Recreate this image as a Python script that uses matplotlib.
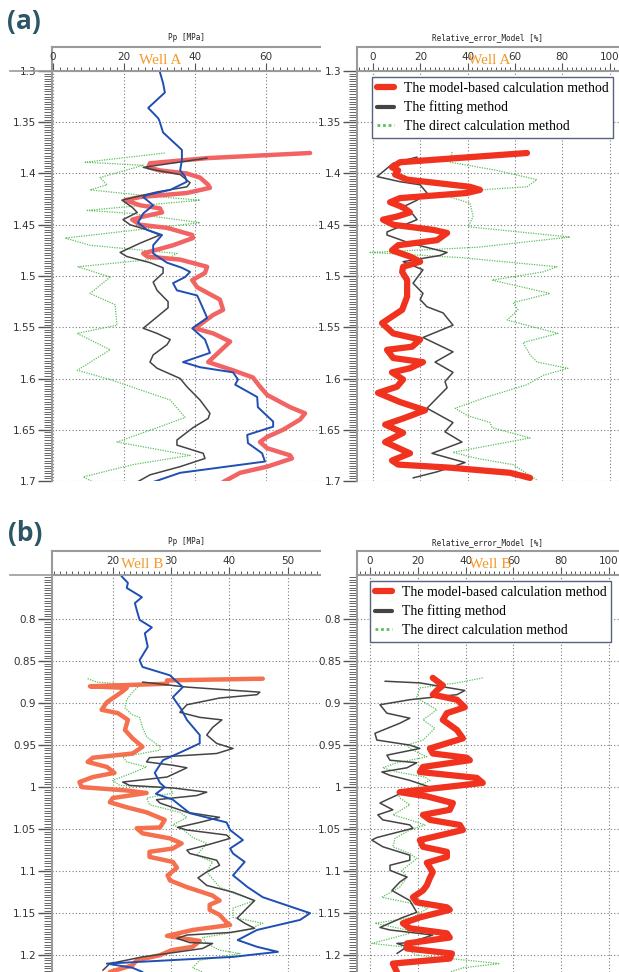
import matplotlib.pyplot as plt
import matplotlib.ticker as mticker
from matplotlib.lines import Line2D

W, H = 619, 972

# ---- Well A : Pp [MPa] ----
a_meas_d = [1.301, 1.312, 1.321, 1.336, 1.346, 1.348, 1.360, 1.377, 1.387, 1.397, 1.403, 1.408, 1.416, 1.421,
            1.423, 1.431, 1.439, 1.448, 1.455, 1.460, 1.470, 1.478, 1.487, 1.492, 1.496, 1.501, 1.507, 1.514,
            1.519, 1.525, 1.536, 1.541, 1.551, 1.562, 1.575, 1.584, 1.589, 1.594, 1.601, 1.606, 1.618, 1.628,
            1.642, 1.647, 1.655, 1.663, 1.673, 1.681, 1.692, 1.701]
a_meas_v = [30.1, 31.0, 31.5, 26.8, 29.6, 29.9, 31.0, 36.3, 36.3, 35.8, 37.2, 37.7, 33.0, 26.5,
            25.4, 28.2, 25.4, 23.9, 26.5, 30.7, 28.2, 28.2, 32.1, 36.3, 38.6, 37.2, 33.8, 34.9,
            40.6, 41.4, 42.8, 43.4, 39.2, 42.8, 44.2, 36.6, 41.4, 50.7, 52.1, 51.3, 57.5, 57.7,
            62.0, 62.0, 54.7, 54.9, 58.9, 59.7, 35.8, 28.2]

a_model_d = [1.380, 1.385, 1.390, 1.394, 1.397, 1.400, 1.404, 1.411, 1.414, 1.419, 1.423, 1.426, 1.431, 1.434,
             1.438, 1.442, 1.445, 1.450, 1.453, 1.460, 1.463, 1.470, 1.478, 1.481, 1.484, 1.491, 1.497, 1.504,
             1.511, 1.523, 1.533, 1.538, 1.551, 1.556, 1.564, 1.584, 1.592, 1.599, 1.608, 1.616, 1.628, 1.634,
             1.640, 1.650, 1.657, 1.662, 1.668, 1.675, 1.678, 1.686, 1.692, 1.701]
a_model_v = [72.4, 43.4, 27.3, 26.8, 30.1, 37.7, 41.4, 43.7, 44.2, 37.7, 24.5, 20.3, 24.5, 30.1,
             30.7, 25.4, 22.3, 24.5, 32.1, 39.2, 39.4, 33.8, 25.4, 26.5, 35.8, 43.4, 42.8, 39.2,
             40.6, 47.0, 47.9, 45.1, 40.0, 45.1, 49.9, 43.7, 50.7, 56.3, 58.3, 60.3, 66.8, 71.0,
             69.6, 64.8, 60.3, 58.3, 60.3, 66.8, 67.3, 60.3, 52.7, 47.9]

a_fit_d = [1.385, 1.394, 1.397, 1.401, 1.409, 1.413, 1.418, 1.426, 1.433, 1.438, 1.445, 1.450, 1.455, 1.460,
           1.468, 1.477, 1.481, 1.487, 1.492, 1.497, 1.506, 1.514, 1.525, 1.531, 1.543, 1.551, 1.556, 1.562,
           1.567, 1.577, 1.584, 1.590, 1.600, 1.608, 1.621, 1.634, 1.639, 1.648, 1.660, 1.665, 1.668, 1.673,
           1.678, 1.686, 1.694, 1.701]
a_fit_v = [43.4, 25.4, 29.3, 35.8, 38.6, 37.7, 29.3, 19.4, 22.3, 23.7, 19.7, 21.7, 26.5, 30.1,
           24.5, 18.9, 20.8, 27.3, 31.0, 31.0, 28.2, 29.3, 32.4, 32.4, 28.2, 25.4, 29.3, 33.0,
           32.1, 28.2, 27.3, 29.3, 35.8, 37.7, 41.4, 44.2, 43.7, 39.4, 34.9, 34.9, 37.7, 42.3,
           42.8, 35.8, 27.3, 23.7]

a_direct_d = [1.380, 1.389, 1.392, 1.404, 1.411, 1.416, 1.422, 1.426, 1.436, 1.439, 1.448, 1.463, 1.470, 1.478,
              1.482, 1.491, 1.501, 1.517, 1.528, 1.548, 1.556, 1.572, 1.592, 1.601, 1.611, 1.621, 1.638, 1.647,
              1.662, 1.675, 1.684, 1.696, 1.701]
a_direct_v = [31.5, 9.0, 25.4, 13.2, 15.2, 10.4, 27.3, 41.4, 9.6, 22.3, 41.4, 3.4, 10.4, 34.9,
              33.0, 7.0, 16.1, 10.4, 17.5, 18.0, 6.8, 16.1, 6.8, 16.1, 24.5, 33.0, 37.2, 30.1,
              18.0, 38.6, 22.5, 8.5, 11.3]

# ---- Well A : Relative error [%] ----
a_err_model_d = [1.380, 1.389, 1.394, 1.397, 1.401, 1.406, 1.413, 1.416, 1.419, 1.424, 1.428, 1.433, 1.438, 1.442,
                 1.445, 1.450, 1.455, 1.458, 1.465, 1.470, 1.475, 1.481, 1.486, 1.491, 1.496, 1.504, 1.520, 1.533,
                 1.546, 1.556, 1.562, 1.569, 1.572, 1.580, 1.584, 1.590, 1.594, 1.601, 1.608, 1.614, 1.623, 1.631,
                 1.639, 1.645, 1.653, 1.662, 1.673, 1.680, 1.684, 1.687, 1.692, 1.697]
a_err_model_v = [65.1, 11.4, 8.0, 10.6, 9.3, 14.4, 41.0, 45.2, 39.7, 11.4, 7.2, 12.7, 15.6, 10.1,
                 4.2, 8.5, 25.4, 31.3, 27.1, 10.6, 8.0, 15.6, 19.9, 12.7, 12.3, 14.4, 14.4, 12.3,
                 3.8, 8.5, 19.9, 16.5, 5.9, 8.5, 21.1, 15.6, 8.0, 12.7, 10.1, 2.1, 11.4, 22.0,
                 12.7, 5.1, 12.7, 5.1, 15.6, 8.0, 10.6, 32.6, 57.9, 66.4]

a_err_fit_d = [1.384, 1.390, 1.403, 1.408, 1.411, 1.419, 1.426, 1.434, 1.440, 1.445, 1.457, 1.460, 1.468, 1.477,
               1.480, 1.486, 1.494, 1.507, 1.517, 1.523, 1.530, 1.536, 1.548, 1.560, 1.574, 1.584, 1.594, 1.603,
               1.609, 1.629, 1.643, 1.652, 1.662, 1.673, 1.682, 1.691, 1.697]
a_err_fit_v = [18.6, 8.5, 1.7, 11.4, 19.9, 22.8, 18.6, 11.4, 16.9, 18.6, 5.9, 5.9, 15.6, 31.3,
               28.3, 12.7, 21.1, 16.9, 21.1, 19.9, 22.8, 29.6, 33.8, 21.1, 33.8, 26.2, 33.8, 30.4,
               31.3, 22.8, 33.8, 30.4, 37.6, 24.9, 38.9, 27.1, 16.9]

a_err_direct_d = [1.379, 1.389, 1.397, 1.406, 1.413, 1.416, 1.423, 1.429, 1.442, 1.452, 1.462, 1.472, 1.477, 1.482,
                  1.491, 1.496, 1.504, 1.517, 1.526, 1.533, 1.543, 1.556, 1.565, 1.577, 1.584, 1.590, 1.597, 1.606,
                  1.618, 1.629, 1.636, 1.643, 1.648, 1.658, 1.672, 1.678, 1.684, 1.699]
a_err_direct_v = [33.4, 32.6, 52.4, 69.3, 65.1, 45.2, 32.6, 41.0, 42.3, 40.2, 83.3, 44.0, -1.3, 36.8,
                  77.8, 71.9, 50.3, 74.8, 59.2, 61.3, 56.7, 78.2, 63.4, 66.4, 69.3, 82.4, 71.9, 65.1,
                  48.2, 34.7, 39.7, 49.5, 50.3, 66.4, 33.8, 44.0, 59.2, 69.3]

# ---- Well B : Pp [MPa] ----
b_meas_d = [0.749, 0.757, 0.763, 0.774, 0.781, 0.789, 0.801, 0.810, 0.817, 0.833, 0.849, 0.857, 0.867, 0.881,
            0.893, 0.908, 0.920, 0.938, 0.948, 0.958, 0.968, 0.983, 0.995, 1.000, 1.008, 1.015, 1.031, 1.042,
            1.051, 1.063, 1.073, 1.079, 1.089, 1.105, 1.119, 1.131, 1.135, 1.150, 1.158, 1.170, 1.182, 1.190,
            1.196, 1.202, 1.210, 1.215, 1.220]
b_meas_v = [21.5, 22.6, 22.4, 25.0, 23.8, 24.1, 24.6, 26.7, 25.5, 26.0, 24.6, 25.1, 29.8, 32.0,
            30.3, 31.8, 32.7, 34.9, 34.9, 31.8, 28.6, 27.2, 28.1, 28.9, 27.4, 30.3, 33.2, 39.5,
            40.1, 42.3, 40.1, 40.6, 42.6, 40.6, 43.1, 45.7, 47.4, 53.8, 52.1, 44.7, 41.4, 44.7,
            48.3, 40.6, 19.0, 23.4, 25.1]

b_model_d = [0.871, 0.873, 0.877, 0.880, 0.882, 0.887, 0.899, 0.908, 0.912, 0.920, 0.932, 0.942, 0.952, 0.960,
             0.965, 0.970, 0.976, 0.983, 0.988, 0.994, 1.000, 1.004, 1.007, 1.013, 1.018, 1.024, 1.030, 1.039,
             1.048, 1.049, 1.055, 1.061, 1.067, 1.073, 1.077, 1.083, 1.089, 1.096, 1.105, 1.111, 1.119, 1.129,
             1.135, 1.140, 1.146, 1.152, 1.161, 1.164, 1.170, 1.177, 1.183, 1.190, 1.194, 1.200, 1.206, 1.212,
             1.220]
b_model_v = [45.7, 29.3, 29.3, 16.1, 22.4, 21.5, 19.0, 18.1, 20.9, 22.6, 22.1, 23.4, 25.1, 23.4,
             16.6, 15.7, 19.0, 20.3, 16.6, 14.3, 14.7, 22.4, 25.8, 20.0, 19.5, 22.4, 25.8, 28.9,
             28.1, 24.1, 25.1, 29.8, 31.8, 30.3, 26.3, 26.3, 30.3, 31.0, 29.4, 29.8, 32.7, 37.1,
             38.3, 36.6, 36.6, 38.3, 39.5, 40.1, 33.7, 29.3, 34.9, 33.7, 30.1, 28.1, 24.1, 23.4,
             19.5]

b_fit_d = [0.875, 0.881, 0.887, 0.890, 0.894, 0.902, 0.911, 0.917, 0.920, 0.929, 0.938, 0.948, 0.954, 0.960,
           0.965, 0.970, 0.974, 0.977, 0.988, 0.994, 0.998, 1.001, 1.006, 1.010, 1.015, 1.019, 1.030, 1.036,
           1.042, 1.048, 1.051, 1.057, 1.061, 1.069, 1.075, 1.079, 1.087, 1.093, 1.101, 1.108, 1.117, 1.125,
           1.135, 1.144, 1.156, 1.162, 1.168, 1.173, 1.176, 1.180, 1.185, 1.186, 1.192, 1.198, 1.202, 1.210,
           1.218]
b_fit_v = [25.1, 32.7, 45.2, 44.7, 38.3, 32.7, 31.5, 34.9, 38.7, 37.1, 36.1, 37.8, 40.6, 37.8,
           26.3, 25.8, 30.3, 32.7, 29.3, 21.7, 22.9, 30.3, 36.1, 34.4, 27.5, 28.1, 32.7, 38.3,
           34.9, 31.1, 32.7, 39.5, 40.1, 36.1, 32.7, 33.2, 37.8, 38.3, 36.1, 34.6, 36.1, 40.6,
           44.3, 43.0, 41.3, 42.6, 44.3, 40.1, 32.7, 31.0, 33.2, 37.1, 35.4, 29.3, 25.1, 19.5,
           18.3]

b_direct_d = [0.871, 0.875, 0.879, 0.887, 0.896, 0.906, 0.914, 0.917, 0.929, 0.940, 0.952, 0.956, 0.964, 0.970,
              0.976, 0.983, 0.992, 0.998, 1.001, 1.007, 1.013, 1.021, 1.030, 1.036, 1.045, 1.049, 1.060, 1.067,
              1.077, 1.081, 1.089, 1.101, 1.119, 1.126, 1.135, 1.144, 1.155, 1.162, 1.170, 1.179, 1.186, 1.194,
              1.198, 1.206, 1.215, 1.220]
b_direct_v = [15.7, 17.3, 24.6, 23.4, 22.4, 22.1, 23.4, 24.6, 25.1, 25.8, 28.1, 28.1, 21.7, 22.4,
              25.8, 23.4, 20.0, 21.2, 29.8, 30.3, 25.8, 26.3, 31.5, 32.7, 30.3, 31.8, 33.7, 36.1,
              34.9, 34.4, 37.1, 36.1, 38.3, 40.6, 44.3, 40.6, 40.6, 45.7, 43.1, 35.4, 36.1, 38.3,
              41.8, 34.9, 33.7, 35.4]

# ---- Well B : Relative error [%] ----
b_err_model_d = [0.870, 0.879, 0.885, 0.890, 0.896, 0.905, 0.912, 0.920, 0.932, 0.942, 0.954, 0.960, 0.965, 0.968,
                 0.976, 0.982, 0.989, 0.995, 1.006, 1.011, 1.019, 1.027, 1.033, 1.039, 1.045, 1.051, 1.063, 1.071,
                 1.077, 1.083, 1.090, 1.101, 1.108, 1.117, 1.123, 1.131, 1.137, 1.143, 1.146, 1.155, 1.162, 1.168,
                 1.174, 1.179, 1.186, 1.192, 1.198, 1.204, 1.210, 1.220]
b_err_model_v = [26.3, 30.5, 28.0, 26.3, 36.4, 39.7, 32.2, 30.5, 36.4, 38.9, 25.1, 26.3, 40.5, 41.8,
                 22.2, 20.9, 44.7, 47.2, 12.5, 23.8, 34.7, 33.4, 22.2, 25.1, 37.6, 38.9, 20.9, 22.2,
                 32.2, 32.2, 23.8, 26.3, 25.1, 23.8, 22.2, 18.0, 19.6, 32.2, 33.4, 20.9, 13.8, 16.7,
                 32.2, 33.4, 15.5, 15.5, 34.3, 33.4, 9.6, 11.3]

b_err_fit_d = [0.874, 0.876, 0.885, 0.890, 0.896, 0.902, 0.912, 0.918, 0.924, 0.936, 0.944, 0.950, 0.954, 0.962,
               0.968, 0.971, 0.977, 0.982, 0.986, 0.992, 1.000, 1.005, 1.008, 1.015, 1.019, 1.027, 1.033, 1.039,
               1.045, 1.049, 1.060, 1.063, 1.071, 1.081, 1.087, 1.093, 1.099, 1.107, 1.113, 1.123, 1.135, 1.149,
               1.155, 1.167, 1.170, 1.176, 1.185, 1.186, 1.190, 1.198]
b_err_fit_v = [6.3, 20.9, 39.7, 36.4, 16.7, 4.2, 7.1, 16.7, 12.5, 2.1, 2.9, 16.7, 20.9, 7.1,
               8.4, 19.6, 15.5, 5.0, 8.4, 16.7, 25.1, 23.8, 12.5, 7.1, 4.2, 9.6, 3.3, 5.4,
               16.7, 18.0, 2.9, 0.8, 5.4, 16.7, 16.7, 8.4, 8.4, 15.5, 12.5, 9.2, 16.7, 19.6,
               13.8, 4.2, 8.4, 26.3, 16.7, 11.3, 15.5, 11.3]

b_err_direct_d = [0.870, 0.876, 0.882, 0.893, 0.896, 0.908, 0.920, 0.930, 0.944, 0.950, 0.954, 0.964, 0.971, 0.977,
                  0.982, 0.988, 0.992, 1.000, 1.006, 1.013, 1.021, 1.033, 1.039, 1.045, 1.051, 1.061, 1.071, 1.079,
                  1.085, 1.099, 1.107, 1.119, 1.131, 1.138, 1.144, 1.155, 1.162, 1.170, 1.174, 1.186, 1.190, 1.200,
                  1.206, 1.210, 1.215, 1.220]
b_err_direct_v = [47.2, 36.4, 20.9, 19.6, 20.9, 28.0, 22.2, 27.2, 22.2, 15.5, 16.7, 23.8, 11.3, 5.4,
                  11.3, 23.0, 25.1, 19.6, 11.3, 12.5, 16.7, 9.6, 16.7, 23.0, 16.7, 10.5, 9.6, 16.7,
                  19.6, 13.4, 15.5, 12.5, 5.0, 16.7, 24.2, 18.0, 2.1, 15.5, 16.7, 0.8, 13.4, 19.6,
                  40.5, 54.3, 38.9, 33.4]

a_depth_ticks = [1.3, 1.35, 1.4, 1.45, 1.5, 1.55, 1.6, 1.65, 1.7]
b_depth_ticks = [0.8, 0.85, 0.9, 0.95, 1.0, 1.05, 1.1, 1.15, 1.2]
labels = ['The model-based calculation method', 'The fitting method', 'The direct calculation method']

SPINE = '#9a9a9a'
GREEN = '#5cc05c'
BLACK = '#444444'
BLUE = '#1f4fb5'


def px_box(x0, y0, x1, y1):
    return [x0 / W, 1 - y1 / H, (x1 - x0) / W, (y1 - y0) / H]


def track(fig, box, hy0, xlim, ylim, xmaj, xmin, yticks, ymin, title, well, wx, ty):
    x0, y0, x1, y1 = box
    hax = fig.add_axes(px_box(x0, hy0, x1, y0))
    hax.set_facecolor('none')
    hax.set_xticks([])
    hax.set_yticks([])
    for s in ['bottom', 'right']:
        hax.spines[s].set_visible(False)
    for s in ['top', 'left']:
        hax.spines[s].set_color(SPINE)
        hax.spines[s].set_linewidth(1.5)

    ax = fig.add_axes(px_box(x0, y0, x1, y1))
    ax.set_xlim(*xlim)
    ax.set_ylim(*ylim)
    ax.xaxis.tick_top()
    ax.xaxis.set_major_locator(xmaj)
    ax.xaxis.set_minor_locator(mticker.MultipleLocator(xmin))
    ax.yaxis.set_major_locator(mticker.FixedLocator(yticks))
    ax.yaxis.set_minor_locator(mticker.MultipleLocator(ymin))
    ax.yaxis.set_major_formatter(mticker.FuncFormatter(lambda v, p: '%g' % round(v, 3)))
    ax.tick_params(axis='x', which='major', direction='out', length=6, width=0.8, pad=0.5,
                   labelsize=7.5, colors='#555555', labelcolor='#333333')
    ax.tick_params(axis='x', which='minor', direction='out', length=3, width=0.7, colors='#555555')
    ax.tick_params(axis='y', which='major', direction='out', length=10, width=1.0, pad=1.5,
                   labelsize=7.5, colors='#555555', labelcolor='#333333')
    ax.tick_params(axis='y', which='minor', direction='out', length=6, width=0.7, colors='#666666')
    for s in ['bottom', 'right']:
        ax.spines[s].set_visible(False)
    for s in ['top', 'left']:
        ax.spines[s].set_color(SPINE)
        ax.spines[s].set_linewidth(1.5)
    ax.grid(True, which='major', color='#7a7a7a', linestyle=(0, (1, 2)), linewidth=0.8)
    ax.set_axisbelow(True)

    fig.text((x0 + x1) / 2 / W, 1 - ty / H, title, ha='center', va='center',
             fontsize=5.5, family='DejaVu Sans Mono', color='#222222')
    fig.text(wx / W, 1 - (hy0 + 13) / H, well, ha='center', va='center',
             fontsize=11, family='Liberation Serif', color='#f39a2b')
    return ax


def add_legend(ax, handles, left, top):
    leg = ax.legend(handles, labels, loc='upper left', bbox_to_anchor=(left / W, 1 - top / H),
                    bbox_transform=ax.figure.transFigure,
                    prop={'family': 'Liberation Serif', 'size': 9.9},
                    frameon=True, fancybox=False, framealpha=1, edgecolor='#56627e',
                    handlelength=1.25, handletextpad=0.7, labelspacing=0.42, borderpad=0.35,
                    borderaxespad=0)
    leg.get_frame().set_linewidth(1.0)
    for h, lw in zip(leg.legend_handles, [4.5, 3.0, 2.0]):
        h.set_linewidth(lw)


def draw(ax, v, d, **kw):
    line, = ax.plot(v, d, solid_joinstyle='round', solid_capstyle='round', **kw)
    return line


fig = plt.figure(figsize=(W / 100, H / 100), dpi=100)

# panel (a)
ax = track(fig, (52, 71, 320, 481), 47, (-0.3, 75.2), (1.7, 1.3), mticker.MultipleLocator(20), 2,
           a_depth_ticks, 0.0025, 'Pp [MPa]', 'Well A', 160, 38)
draw(ax, a_direct_v, a_direct_d, color=GREEN, lw=0.9, ls=(0, (1, 1)))
draw(ax, a_model_v, a_model_d, color='#f26464', lw=3.2)
draw(ax, a_fit_v, a_fit_d, color=BLACK, lw=1.1)
draw(ax, a_meas_v, a_meas_d, color=BLUE, lw=1.4)

ax = track(fig, (357, 71, 619, 481), 47, (-6.8, 104), (1.7, 1.3), mticker.MultipleLocator(20), 2,
           a_depth_ticks, 0.0025, 'Relative_error_Model [%]', 'Well A', 489, 38)
l_dir = draw(ax, a_err_direct_v, a_err_direct_d, color=GREEN, lw=0.9, ls=(0, (1, 1)))
l_fit = draw(ax, a_err_fit_v, a_err_fit_d, color=BLACK, lw=1.1)
l_mod = draw(ax, a_err_model_v, a_err_model_d, color='#f0321f', lw=4.5)
add_legend(ax, [l_mod, l_fit, l_dir], 372, 77)

# panel (b)
ax = track(fig, (52, 575, 320, 972), 551, (9.6, 55.5), (1.22, 0.7476),
           mticker.FixedLocator([20, 30, 40, 50]), 1, b_depth_ticks, 0.003125, 'Pp [MPa]', 'Well B', 142, 542)
draw(ax, b_direct_v, b_direct_d, color=GREEN, lw=0.9, ls=(0, (1, 1)))
draw(ax, b_model_v, b_model_d, color='#f5704f', lw=3.2)
draw(ax, b_fit_v, b_fit_d, color=BLACK, lw=1.1)
draw(ax, b_meas_v, b_meas_d, color=BLUE, lw=1.4)

ax = track(fig, (357, 575, 619, 972), 551, (-5.4, 104.2), (1.22, 0.7476), mticker.MultipleLocator(20), 2,
           b_depth_ticks, 0.003125, 'Relative_error_Model [%]', 'Well B', 490, 543)
l_dir = draw(ax, b_err_direct_v, b_err_direct_d, color=GREEN, lw=0.9, ls=(0, (1, 1)))
l_fit = draw(ax, b_err_fit_v, b_err_fit_d, color=BLACK, lw=1.1)
l_mod = draw(ax, b_err_model_v, b_err_model_d, color='#f0321f', lw=4.5)
add_legend(ax, [l_mod, l_fit, l_dir], 370, 581)

# thin rules left of the depth tracks
for y in [71, 575]:
    fig.add_artist(Line2D([10 / W, 52 / W], [1 - y / H, 1 - y / H], color=SPINE, lw=1.2))

fig.text(24 / W, 1 - 21 / H, '(a)', ha='center', va='center', fontsize=19,
         family='Open Sans', weight='bold', color='#2c5668')
fig.text(25 / W, 1 - 534 / H, '(b)', ha='center', va='center', fontsize=19,
         family='Open Sans', weight='bold', color='#2c5668')

plt.savefig('out.png', dpi=100)
